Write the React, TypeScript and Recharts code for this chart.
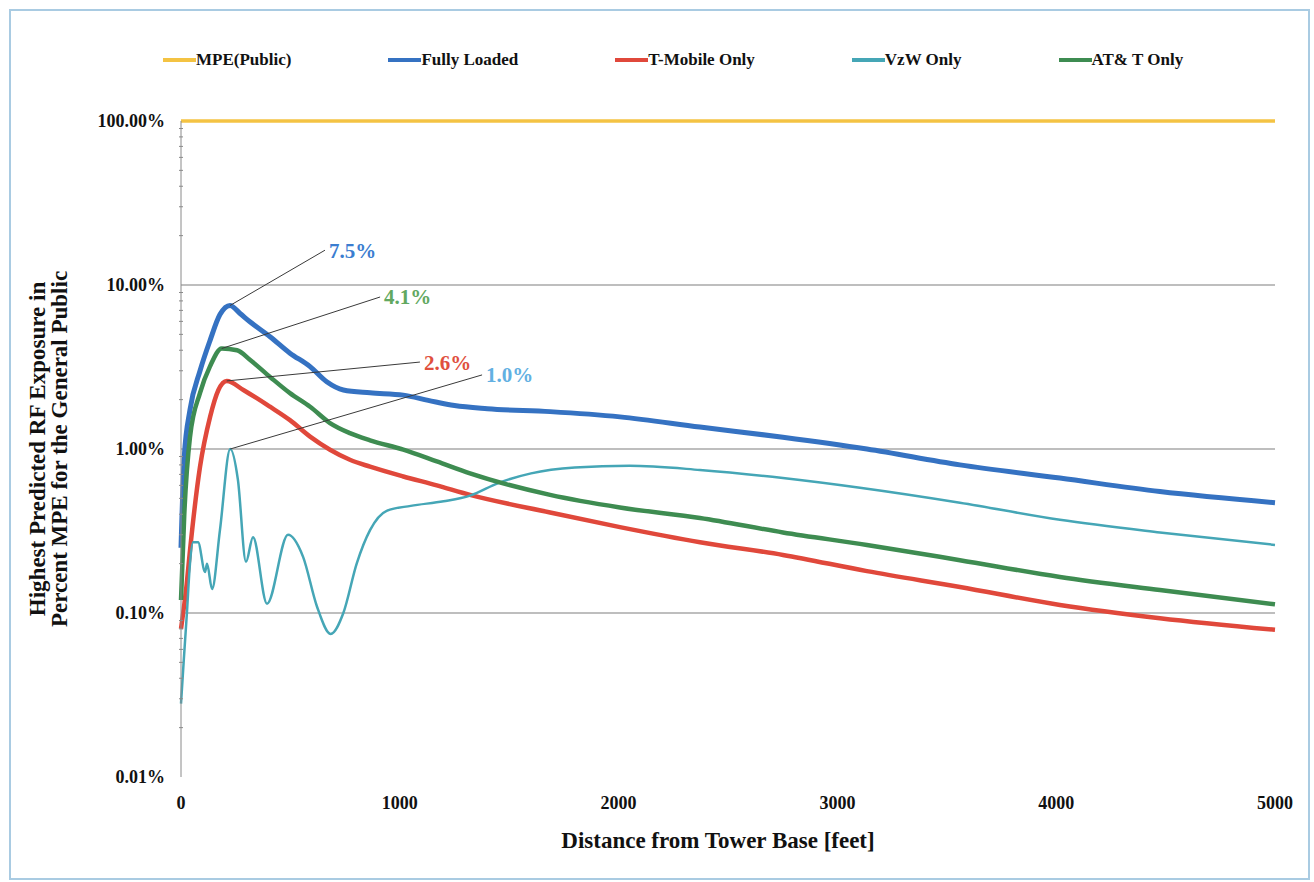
import {
  LineChart,
  Line,
  XAxis,
  YAxis,
  ReferenceLine,
  ReferenceDot,
} from "recharts";

const xTicks = [0, 1000, 2000, 3000, 4000, 5000];
const yDecades = [0.01, 0.1, 1, 10, 100];
const yMinorSteps = [2, 3, 4, 5, 6, 7, 8, 9];
const gridLevels = [0.1, 1, 10];

const mpeFeet = [0, 5000];
const mpePct = [100, 100];

const fullyFeet = [0, 15, 41, 87, 133, 178, 224, 270, 315, 407, 498, 590, 666, 742, 864, 1016, 1130, 1250, 1400, 1687, 2006, 2372, 2751, 3135, 3560, 4017, 4474, 5000];
const fullyPct = [0.25, 0.9, 1.73, 3.0, 4.6, 6.6, 7.5, 6.7, 5.97, 4.84, 3.84, 3.18, 2.57, 2.29, 2.2, 2.13, 1.98, 1.84, 1.76, 1.69, 1.57, 1.36, 1.18, 1.0, 0.8, 0.665, 0.55, 0.47];

const tmoFeet = [0, 26, 41, 87, 133, 171, 209, 285, 407, 498, 590, 681, 772, 864, 1016, 1169, 1321, 1687, 2006, 2372, 2751, 3135, 3560, 4017, 4474, 5000];
const tmoPct = [0.08, 0.15, 0.24, 0.78, 1.57, 2.29, 2.6, 2.29, 1.81, 1.5, 1.19, 0.99, 0.86, 0.78, 0.68, 0.6, 0.525, 0.41, 0.334, 0.27, 0.226, 0.18, 0.144, 0.112, 0.093, 0.079];

const vzwFeet = [0, 12, 27, 41, 55, 78, 110, 119, 142, 178, 225, 260, 297, 329, 393, 489, 558, 621, 684, 742, 803, 864, 940, 1050, 1200, 1321, 1450, 1600, 1800, 2050, 2372, 2751, 3103, 3560, 4017, 4474, 5000];
const vzwPct = [0.028, 0.05, 0.1, 0.2, 0.27, 0.27, 0.178, 0.2, 0.14, 0.32, 1.0, 0.65, 0.205, 0.29, 0.114, 0.3, 0.22, 0.11, 0.0745, 0.1, 0.2, 0.32, 0.42, 0.45, 0.48, 0.52, 0.62, 0.71, 0.77, 0.79, 0.745, 0.665, 0.58, 0.47, 0.37, 0.31, 0.26];

const attFeet = [0, 15, 41, 87, 133, 186, 256, 315, 407, 498, 590, 681, 772, 864, 1016, 1169, 1321, 1687, 2006, 2372, 2751, 3135, 3560, 4017, 4474, 5000];
const attPct = [0.12, 0.4, 1.18, 2.2, 3.2, 4.1, 4.0, 3.5, 2.75, 2.19, 1.81, 1.44, 1.25, 1.13, 0.99, 0.84, 0.71, 0.525, 0.44, 0.38, 0.31, 0.26, 0.21, 0.166, 0.138, 0.113];

const calloutText = ["7.5%", "4.1%", "2.6%", "1.0%"];
const calloutFromFeet = [224, 186, 209, 225];
const calloutFromPct = [7.5, 4.1, 2.6, 1.0];
const calloutToFeet = [658, 910, 1092, 1376];
const calloutToPct = [16.3, 8.45, 3.39, 2.83];
const calloutColors = ["#3b7dd0", "#62a860", "#e0503e", "#62b0e2"];

const FONT = "'Liberation Serif', 'Times New Roman', serif";

const toPoints = (feet: number[], pct: number[]) =>
  feet.map((x, i) => ({ x, y: pct[i] }));

// decades plus the 2..9 minor marks between them (log axis)
const yTicks = [
  ...yDecades,
  ...yDecades.slice(0, -1).flatMap((d) => yMinorSteps.map((m) => +(d * m).toPrecision(3))),
].sort((a, b) => a - b);

const isDecade = (v: number) => yDecades.includes(v);

const series = [
  { name: "MPE(Public)", color: "#f4c343", width: 3.5, data: toPoints(mpeFeet, mpePct) },
  { name: "Fully Loaded", color: "#3572c2", width: 5, data: toPoints(fullyFeet, fullyPct) },
  { name: "T-Mobile Only", color: "#e0483b", width: 4.5, data: toPoints(tmoFeet, tmoPct) },
  { name: "VzW Only", color: "#45a6b6", width: 2.5, data: toPoints(vzwFeet, vzwPct) },
  { name: "AT& T Only", color: "#3e8c51", width: 4.5, data: toPoints(attFeet, attPct) },
];

function LegendRow() {
  return (
    <div
      style={{
        position: "absolute",
        top: 50,
        left: 0,
        display: "flex",
        gap: 97,
        paddingLeft: 163,
        fontFamily: FONT,
      }}
    >
      {series.map((s) => (
        <div key={s.name} style={{ display: "flex", alignItems: "center" }}>
          <div style={{ width: 33, height: 4, background: s.color }} />
          <span style={{ fontSize: 17, fontWeight: "bold", color: "#111" }}>{s.name}</span>
        </div>
      ))}
    </div>
  );
}

const titleStyle = { fontFamily: FONT, fontSize: 23, fontWeight: "bold" as const, fill: "#111" };

function YTitle(props: any) {
  const { viewBox } = props;
  const cy = viewBox.y + viewBox.height / 2;
  return (
    <g>
      <text x={37} y={cy} transform={`rotate(-90, 37, ${cy})`} textAnchor="middle" dominantBaseline="central" style={titleStyle}>
        Highest Predicted RF Exposure in
      </text>
      <text x={59} y={cy} transform={`rotate(-90, 59, ${cy})`} textAnchor="middle" dominantBaseline="central" style={titleStyle}>
        Percent MPE for the General Public
      </text>
    </g>
  );
}

function XTitle(props: any) {
  const { viewBox } = props;
  const cx = viewBox.x + viewBox.width / 2 - 10;
  return (
    <text x={cx} y={viewBox.y + 63} textAnchor="middle" dominantBaseline="central" style={titleStyle}>
      Distance from Tower Base [feet]
    </text>
  );
}

function YTick(props: any) {
  const { x, y, payload } = props;
  const v = payload.value;
  if (!isDecade(v)) {
    // small minor mark on the axis line (axis sits 16px right of the label anchor)
    return <line x1={x + 14} x2={x + 18} y1={y} y2={y} stroke="#8a8a8a" strokeWidth={1} />;
  }
  return (
    <text
      x={x}
      y={y}
      dy="0.355em"
      textAnchor="end"
      style={{ fontFamily: FONT, fontSize: 18, fontWeight: "bold", fill: "#111" }}
    >
      {`${v.toFixed(2)}%`}
    </text>
  );
}

export default function App() {
  const tickStyle = { fontFamily: FONT, fontSize: 18, fontWeight: "bold", fill: "#111" };
  return (
    <div style={{ position: "absolute", left: 0, top: 0, width: 1314, height: 882, background: "#fff" }}>
      <div
        style={{
          position: "absolute",
          left: 9,
          top: 9,
          width: 1297,
          height: 867,
          border: "2px solid #a9cbe2",
        }}
      />
      <LineChart
        width={1314}
        height={882}
        margin={{ top: 121, right: 39, bottom: 30, left: 0 }}
        style={{ position: "absolute", left: 0, top: 0 }}
      >
        <XAxis
          dataKey="x"
          type="number"
          domain={[0, 5000]}
          ticks={xTicks}
          height={75}
          axisLine={false}
          tickLine={false}
          tickMargin={13}
          tick={tickStyle}
          label={<XTitle />}
        />
        <YAxis
          type="number"
          scale="log"
          domain={[0.01, 100]}
          ticks={yTicks}
          interval={0}
          width={181}
          axisLine={{ stroke: "#8a8a8a", strokeWidth: 1 }}
          tickLine={false}
          tickMargin={10}
          tick={<YTick />}
          label={<YTitle />}
        />
        {gridLevels.map((g) => (
          <ReferenceLine key={g} y={g} stroke="#a8a8a8" strokeWidth={1.5} />
        ))}
        {series.map((s) => (
          <Line
            key={s.name}
            data={s.data}
            dataKey="y"
            name={s.name}
            type="monotone"
            stroke={s.color}
            strokeWidth={s.width}
            dot={false}
            activeDot={false}
            isAnimationActive={false}
          />
        ))}
        {calloutText.map((t, i) => (
          <ReferenceLine
            key={`seg-${t}`}
            segment={[
              { x: calloutFromFeet[i], y: calloutFromPct[i] },
              { x: calloutToFeet[i], y: calloutToPct[i] },
            ]}
            stroke="#3a3a3a"
            strokeWidth={1}
          />
        ))}
        {calloutText.map((t, i) => (
          <ReferenceDot
            key={`lbl-${t}`}
            x={calloutToFeet[i]}
            y={calloutToPct[i]}
            r={0}
            fill="none"
            stroke="none"
            label={{
              value: t,
              position: "right",
              offset: 4,
              fill: calloutColors[i],
              fontFamily: FONT,
              fontSize: 21,
              fontWeight: "bold",
            }}
          />
        ))}
      </LineChart>
      <LegendRow />
    </div>
  );
}
